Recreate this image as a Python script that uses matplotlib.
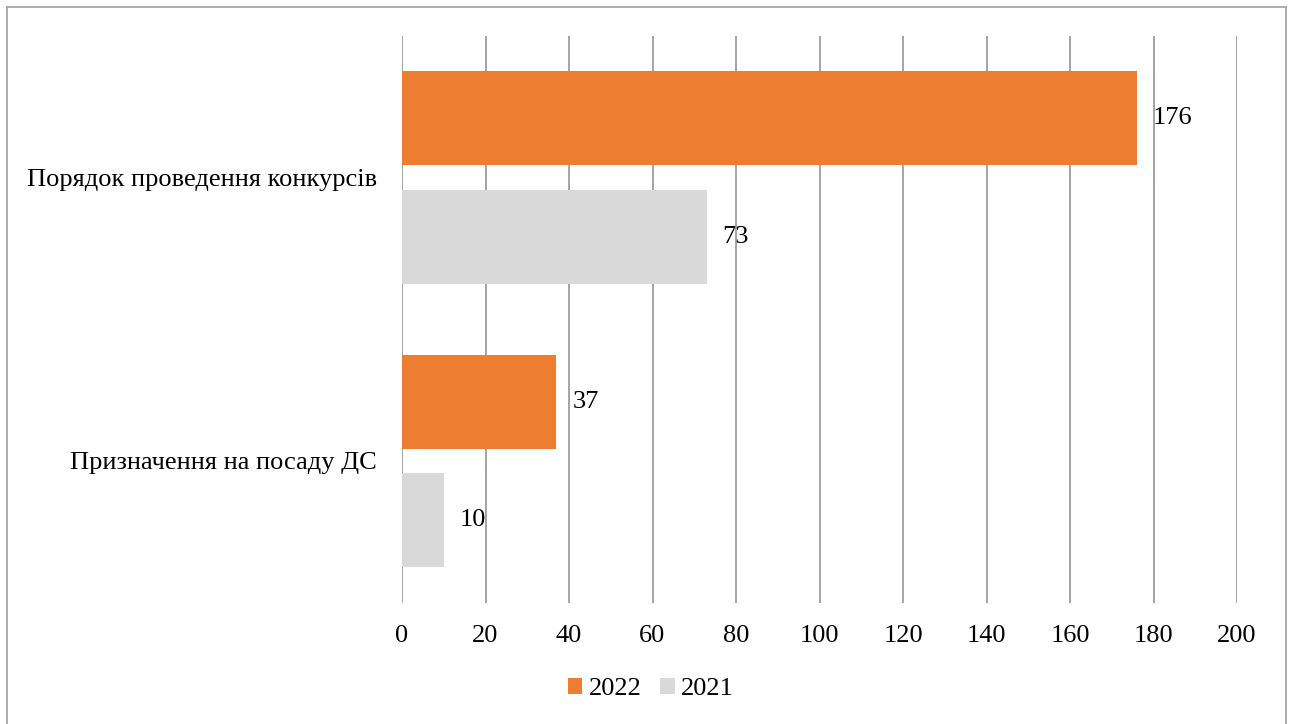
import matplotlib
matplotlib.use("Agg")
import matplotlib.pyplot as plt
from matplotlib.lines import Line2D
from matplotlib.patches import Patch

categories = ["Порядок проведення конкурсів", "Призначення на посаду ДС"]
series_names = ["2022", "2021"]
values_2022 = [176, 37]
values_2021 = [73, 10]
x_ticks = [0, 20, 40, 60, 80, 100, 120, 140, 160, 180, 200]

colors = {"2022": "#ED7D31", "2021": "#D9D9D9"}
plt.rcParams['font.family'] = ['Liberation Serif', 'DejaVu Serif']
FS = 19

W, H = 1293, 724
fig = plt.figure(figsize=(W / 100, H / 100), dpi=100)
ax = fig.add_axes([402 / W, 1 - 602.5 / H, (1237 - 402) / W, (602.5 - 36) / H])

bar_h = 94 / 283
off = 118.5 / 283 / 2
ypos = list(range(len(categories)))
b1 = ax.barh([y - off for y in ypos], values_2022, height=bar_h, color=colors["2022"], zorder=3)
b2 = ax.barh([y + off for y in ypos], values_2021, height=bar_h, color=colors["2021"], zorder=3)

for bars, vals in ((b1, values_2022), (b2, values_2021)):
    for rect, v in zip(bars, vals):
        ax.annotate(str(v), xy=(rect.get_width(), rect.get_y() + rect.get_height() / 2),
                    xytext=(11.5, 0), textcoords="offset points", va="center", ha="left",
                    fontsize=FS, color="black", zorder=1)

ax.set_xlim(0, 200)
ax.set_ylim(1.5, -0.5)
ax.set_xticks(x_ticks)
ax.set_xticklabels([str(t) for t in x_ticks], fontsize=FS)
ax.set_yticks(ypos)
ax.set_yticklabels(categories, fontsize=FS)
ax.tick_params(axis="both", length=0)
ax.tick_params(axis="x", pad=16)
ax.tick_params(axis="y", pad=18)
ax.grid(axis="x", color="#8C8C8C", linewidth=1.1, zorder=2)
for gl in ax.get_xgridlines():
    gl.set_zorder(2)
for s in ax.spines.values():
    s.set_visible(False)

handles = [Patch(facecolor=colors["2022"]), Patch(facecolor=colors["2021"])]
fig.legend(handles, series_names, loc="center", bbox_to_anchor=(651 / W, 1 - 689 / H),
           ncol=2, frameon=False, fontsize=FS, handlelength=0.55, handleheight=0.55,
           handletextpad=0.25, columnspacing=0.7)

# outer border (left, top, right)
bc = "#A6A6A6"
fig.add_artist(Line2D([6.5 / W, 6.5 / W], [0, 1 - 6.5 / H], transform=fig.transFigure, color=bc, lw=1.3))
fig.add_artist(Line2D([6.5 / W, 1286 / W], [1 - 6.5 / H, 1 - 6.5 / H], transform=fig.transFigure, color=bc, lw=1.3))
fig.add_artist(Line2D([1286 / W, 1286 / W], [0, 1 - 6.5 / H], transform=fig.transFigure, color=bc, lw=1.3))

fig.savefig("out.png", dpi=100)
